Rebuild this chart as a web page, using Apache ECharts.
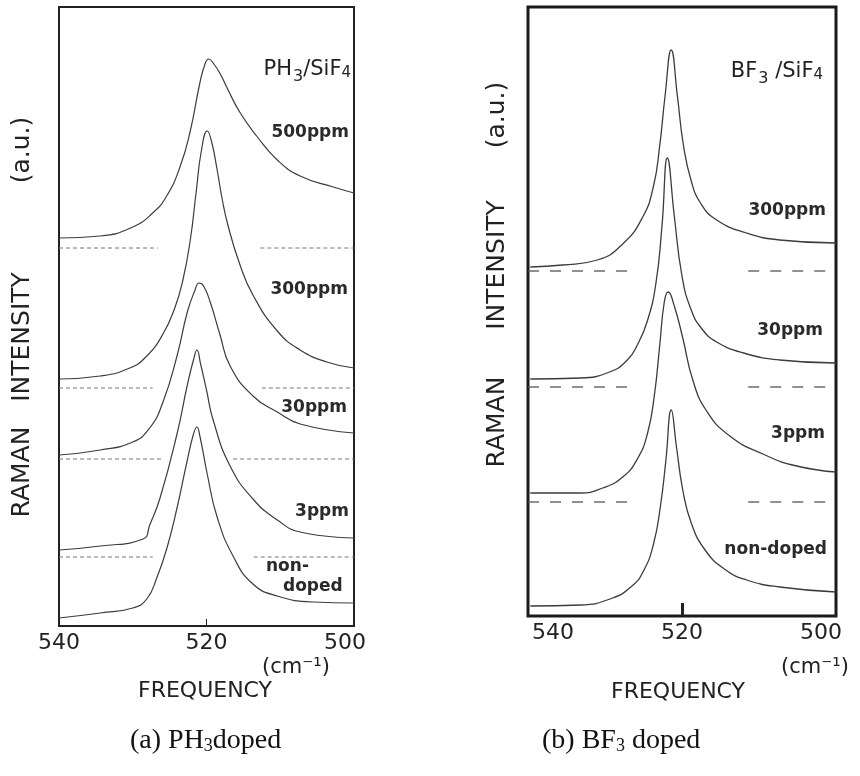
<!DOCTYPE html>
<html>
<head>
<meta charset="utf-8">
<script src="https://cdn.jsdelivr.net/npm/echarts@6/dist/echarts.min.js"></script>
<style>
  html, body { margin: 0; padding: 0; background: #fff; }
  #chart { width: 860px; height: 776px; }
</style>
</head>
<body>
<div id="chart"></div>
<script>
// Raman spectra of doped Si films: [frequency (cm-1), intensity (a.u., offset stacked)]
const freqTicks = [540, 520, 500];

// (a) PH3 / SiF4
const ph3Labels = ['500ppm', '300ppm', '30ppm', '3ppm', 'non-doped'];
const ph3_500ppm = [[540,388],[534.4,390],[530.0,399],[527.3,413],[525.4,430],[523.6,459],[522.2,495],[520.9,543],[520.2,562],[519.7,567],[519.1,563],[518.2,553],[517.2,538],[515.5,514],[513.2,490],[510.4,466],[507.3,450],[502.8,439],[500,433]];
const ph3_300ppm = [[540,247],[534.4,250],[530.4,258],[528.1,270],[525.9,292],[524.3,318],[523.2,346],[522.2,386],[521.4,434],[520.7,475],[519.9,495],[519.3,484],[518.6,458],[517.9,428],[517.1,401],[515.5,362],[513.7,331],[510.4,295],[507.3,276],[503.7,264],[500,258]];
const ph3_30ppm  = [[540,171],[534.4,176],[530.0,184],[527.7,198],[525.9,224],[524.0,270],[522.6,314],[521.6,335],[521.0,343],[520.4,340],[519.5,324],[518.2,292],[516.8,260],[513.7,230],[510.4,214],[507.3,202],[500,193]];
const ph3_3ppm   = [[540,76],[534.4,80],[528.6,87],[527.7,101],[526.3,128],[524.0,192],[522.6,241],[521.7,268],[521.3,276],[520.8,262],[520.0,236],[519.1,206],[516.8,160],[513.7,127],[510.4,106],[507.3,94],[500,88]];
const ph3_nondoped = [[540,8],[534.4,13],[530.0,18],[528.1,27],[526.7,49],[525.4,77],[524.0,118],[522.6,166],[521.8,191],[521.3,199],[520.9,190],[519.9,152],[518.6,110],[516.4,70],[513.7,42],[510.4,30],[505.6,24],[500,23]];
const ph3Baselines = [378, 238, 167, 69];
const ph3DashLeftEnd = [526.6, 527.3, 525.9, 527.3];
const ph3DashRightStart = [512.7, 512.5, 516.4, 513.6];

// (b) BF3 / SiF4
const bf3Labels = ['300ppm', '30ppm', '3ppm', 'non-doped'];
const bf3_300ppm = [[539.7,349],[535.5,351],[531.0,356],[527.7,372],[525.1,399],[523.7,430],[522.9,470],[522.2,520],[521.4,566],[520.6,520],[519.8,470],[518.8,435],[517.6,413],[515.5,396],[511.6,383],[507.3,376],[500,373]];
const bf3_30ppm  = [[539.7,237],[533.2,238],[529.4,244],[527.1,256],[525.8,271],[524.5,295],[523.4,332],[522.6,390],[521.9,458],[521.0,400],[520.0,340],[518.8,306],[517.4,287],[515.5,274],[512.0,263],[507.3,256],[500,253]];
const bf3_3ppm   = [[539.7,123],[533.2,123],[530.3,128],[527.7,139],[525.8,157],[524.5,182],[523.6,220],[522.9,270],[522.3,314],[521.8,324],[521.0,310],[519.9,278],[518.6,236],[516.8,205],[513.8,180],[509.5,162],[505.1,150],[500,144]];
const bf3_nondoped = [[539.7,10],[533.2,11],[529.0,18],[526.5,30],[525.0,45],[523.7,72],[522.8,110],[522.1,155],[521.4,206],[520.7,168],[519.9,126],[518.8,93],[517.0,66],[514.5,47],[511.6,36],[507.3,29],[500,24]];
const bf3Baselines = [345, 229, 114];
const bf3DashLeftEnd = [527.1, 527.1, 527.1];
const bf3DashRightStart = [511.4, 511.4, 511.4];

const LINE = '#3c3c3c';
const TEXT = '#222';
const SANS = 'DejaVu Sans';

function curve(data, grid, width) {
  return {
    type: 'line', xAxisIndex: grid, yAxisIndex: grid, data: data,
    showSymbol: false, smooth: 0.5,
    lineStyle: { color: LINE, width: width }, silent: true, z: 3
  };
}
function dash(y, x0, x1, grid, pattern, color, width) {
  return {
    type: 'line', xAxisIndex: grid, yAxisIndex: grid,
    data: [[x0, y], [x1, y]], showSymbol: false, silent: true,
    lineStyle: { color: color, width: width, type: pattern }, z: 2
  };
}

const series = [];
[ph3_500ppm, ph3_300ppm, ph3_30ppm, ph3_3ppm, ph3_nondoped].forEach(d => series.push(curve(d, 0, 1.2)));
ph3Baselines.forEach((b, i) => {
  series.push(dash(b, 540, ph3DashLeftEnd[i], 0, [4, 3], '#777', 1));
  series.push(dash(b, ph3DashRightStart[i], 500, 0, [4, 3], '#777', 1));
});
[bf3_300ppm, bf3_30ppm, bf3_3ppm, bf3_nondoped].forEach(d => series.push(curve(d, 1, 1.3)));
bf3Baselines.forEach((b, i) => {
  series.push(dash(b, 540, bf3DashLeftEnd[i], 1, [11, 11], '#555', 1.3));
  series.push(dash(b, bf3DashRightStart[i], 500, 1, [11, 11], '#555', 1.3));
});

// tick labels: the end labels sit slightly inward of the frame corners
function xAxis(grid, tickWidth, tickLen, padLeftEnd, padRightEnd) {
  return {
    type: 'value', gridIndex: grid, min: 500, max: 540, interval: 20, inverse: true,
    axisLine: { show: false }, splitLine: { show: false },
    axisTick: { show: true, inside: true, length: tickLen, customValues: [520],
                lineStyle: { color: '#222', width: tickWidth } },
    axisLabel: {
      customValues: freqTicks, margin: 6, color: TEXT,
      formatter: v => v === 540 ? '{l|540}' : (v === 500 ? '{r|500}' : '{c|' + v + '}'),
      rich: {
        l: { fontSize: 22, fontFamily: SANS, color: TEXT, padding: [0, 0, 0, padLeftEnd] },
        r: { fontSize: 22, fontFamily: SANS, color: TEXT, padding: [0, padRightEnd, 0, 0] },
        c: { fontSize: 22, fontFamily: SANS, color: TEXT }
      }
    }
  };
}
function yAxis(grid, max) {
  return { type: 'value', gridIndex: grid, min: 0, max: max, show: false };
}

function txt(x, y, text, opts) {
  return { type: 'text', x: x, y: y, silent: true, style: Object.assign({
    text: text, fontFamily: SANS, fontSize: 17, fontWeight: 'bold', fill: '#2a2a2a',
    align: 'right', verticalAlign: 'middle'
  }, opts || {}) };
}
function vtxt(x, y, text) {
  return { type: 'text', x: x, y: y, rotation: Math.PI / 2, silent: true, style: {
    text: text, fontFamily: SANS, fontSize: 25, fill: TEXT, align: 'center', verticalAlign: 'middle'
  } };
}
const formulaRich = {
  n: { fontFamily: SANS, fontSize: 21, fill: TEXT },
  s: { fontFamily: SANS, fontSize: 16, fill: TEXT, padding: [14, 0, 0, 1] },
  t: { fontFamily: SANS, fontSize: 15, fill: TEXT, padding: [7, 0, 0, 0] }
};
const captionRich = {
  n: { fontFamily: 'Liberation Serif', fontSize: 28, fill: '#111' },
  s: { fontFamily: 'Liberation Serif', fontSize: 18, fill: '#111', padding: [10, 0, 0, 0] }
};

const graphic = [
  // panel (a) annotations
  { type: 'text', x: 351, y: 70, silent: true, style: { text: '{n|PH}{s|3}{n|/SiF}{t|4}', rich: formulaRich, align: 'right', verticalAlign: 'middle' } },
  txt(349, 133, ph3Labels[0]),
  txt(348, 290, ph3Labels[1]),
  txt(347, 408, ph3Labels[2]),
  txt(349, 512, ph3Labels[3]),
  txt(266, 567, 'non-', { align: 'left' }),
  txt(283, 587, 'doped', { align: 'left' }),
  vtxt(22, 472, 'RAMAN'), vtxt(22, 337, 'INTENSITY'), vtxt(22, 150, '(a.u.)'),
  txt(296, 668, '(cm\u207B\u00B9)', { fontWeight: 'normal', fontSize: 21, align: 'center', fill: TEXT }),
  txt(205, 691, 'FREQUENCY', { fontWeight: 'normal', fontSize: 22, align: 'center', fill: TEXT }),
  { type: 'text', x: 130, y: 741, silent: true, style: { text: '{n|(a) PH}{s|3}{n|doped}', rich: captionRich, align: 'left', verticalAlign: 'middle' } },

  // panel (b) annotations
  { type: 'text', x: 823, y: 72, silent: true, style: { text: '{n|BF}{s|3}{n| /SiF}{t|4}', rich: formulaRich, align: 'right', verticalAlign: 'middle' } },
  txt(826, 211, bf3Labels[0]),
  txt(823, 331, bf3Labels[1]),
  txt(825, 434, bf3Labels[2]),
  txt(827, 550, bf3Labels[3]),
  vtxt(497, 422, 'RAMAN'), vtxt(497, 265, 'INTENSITY'), vtxt(497, 115, '(a.u.)'),
  txt(815, 668, '(cm\u207B\u00B9)', { fontWeight: 'normal', fontSize: 21, align: 'center', fill: TEXT }),
  txt(678, 692, 'FREQUENCY', { fontWeight: 'normal', fontSize: 22, align: 'center', fill: TEXT }),
  { type: 'text', x: 542, y: 741, silent: true, style: { text: '{n|(b) BF}{s|3}{n| doped}', rich: captionRich, align: 'left', verticalAlign: 'middle' } }
];

const chart = echarts.init(document.getElementById('chart'), null, { renderer: 'canvas' });
chart.setOption({
  animation: false,
  backgroundColor: '#fff',
  grid: [
    { left: 59, top: 7, width: 295, height: 619, outerBoundsMode: 'none', show: true, borderColor: '#222', borderWidth: 2, backgroundColor: 'transparent' },
    { left: 528, top: 7, width: 308, height: 609, outerBoundsMode: 'none', show: true, borderColor: '#1a1a1a', borderWidth: 3, backgroundColor: 'transparent' }
  ],
  xAxis: [xAxis(0, 1, 7, 0, 18), xAxis(1, 3, 13, 50, 30)],
  yAxis: [yAxis(0, 619), yAxis(1, 609)],
  series: series,
  graphic: graphic
});
</script>
</body>
</html>
